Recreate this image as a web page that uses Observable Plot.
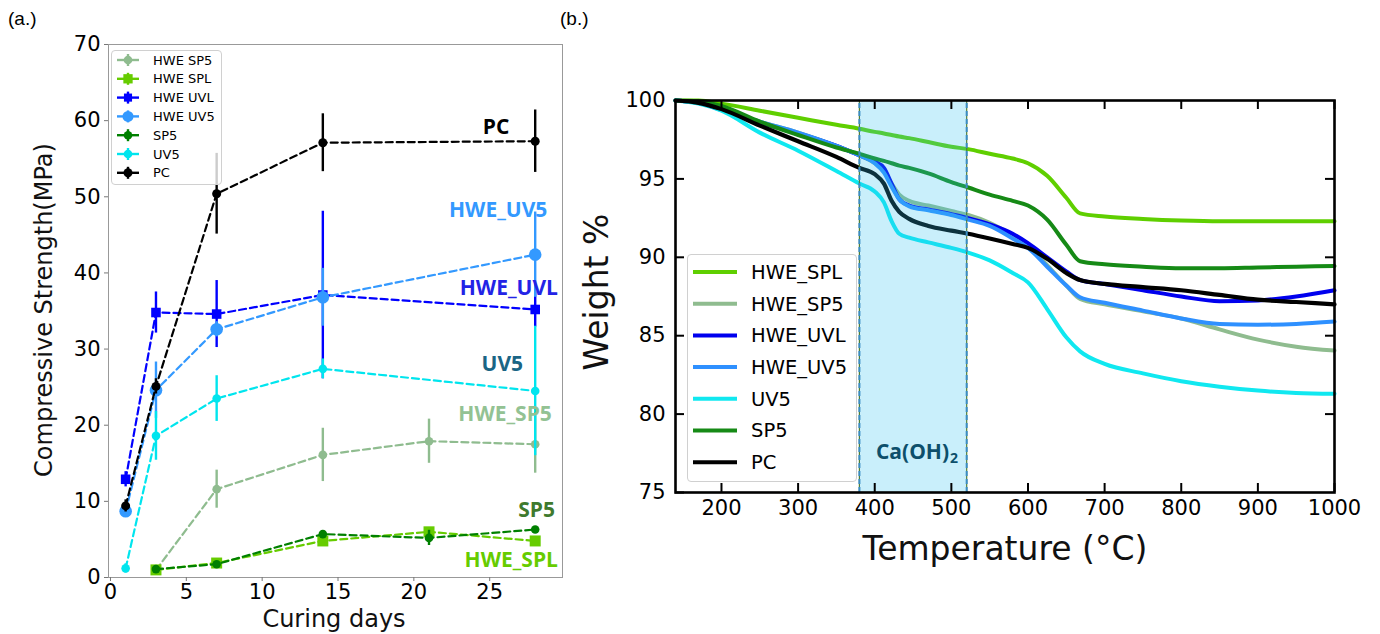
<!DOCTYPE html>
<html><head><meta charset="utf-8">
<script src="https://cdn.jsdelivr.net/npm/d3@7"></script>
<script src="https://cdn.jsdelivr.net/npm/@observablehq/plot@0.6"></script>
<style>
body{margin:0;background:#fff;width:1380px;height:634px;position:relative;overflow:hidden;font-family:"DejaVu Sans",sans-serif}
.abs{position:absolute}
.tag{position:absolute;top:8px;font:19px "Liberation Sans",Arial,sans-serif;color:#000}
.ax{position:absolute;font-family:"DejaVu Sans",sans-serif;color:#111;white-space:nowrap;transform:translate(-50%,-50%)}
.leg{position:absolute;background:rgba(255,255,255,0.8);border:1px solid #d0d0d0;border-radius:4px;box-sizing:border-box}
</style></head><body>
<div id="a" class="abs" style="left:0;top:0"></div>
<div id="b" class="abs" style="left:580px;top:0"></div>
<script>
// ---------- (a.) Compressive strength data ----------
const seriesA = ["HWE SP5","HWE SPL","HWE UVL","HWE UV5","SP5","UV5","PC"];
const daysHWE_SP5=[3,7,14,21,28], strHWE_SP5=[1.0,11.6,16.1,17.9,17.5], errHWE_SP5=[0.4,2.5,3.5,2.9,3.8];
const daysHWE_SPL=[3,7,14,21,28], strHWE_SPL=[1.0,1.9,4.8,6.0,4.8], errHWE_SPL=[0.3,0.3,0.5,0.4,0.5];
const daysHWE_UVL=[1,3,7,14,28], strHWE_UVL=[12.9,34.8,34.6,37.1,35.2], errHWE_UVL=[1.0,2.7,4.4,11.0,2.3];
const daysHWE_UV5=[1,3,7,14,28], strHWE_UV5=[8.7,24.6,32.6,36.8,42.4], errHWE_UV5=[0.5,3.7,1.0,3.8,5.6];
const daysSP5=[3,7,14,21,28], strSP5=[1.1,1.75,5.7,5.2,6.3], errSP5=[0.3,0.3,0.4,1.0,0.3];
const daysUV5=[1,3,7,14,28], strUV5=[1.2,18.6,23.5,27.4,24.5], errUV5=[0.6,3.2,3.0,1.3,8.5];
const daysPC=[1,3,7,14,28], strPC=[9.4,25.1,50.4,57.1,57.3], errPC=[0.8,1.0,5.3,3.8,4.1];
const xTicksA=[0,5,10,15,20,25];
const yTicksA=[0,10,20,30,40,50,60,70];
// end-of-line annotations (text, day, MPa)
const annText=["PC","HWE_UV5","HWE_UVL","UV5","HWE_SP5","SP5","HWE_SPL"];
const annDay=[26.3,28.8,29.5,27.2,29.1,29.3,29.5];
const annVal=[59.1,48.2,38.0,28.0,21.4,8.8,2.2];

// ---------- (b.) TGA data ----------
const seriesB=["HWE_SPL","HWE_SP5","HWE_UVL","HWE_UV5","UV5","SP5","PC"];
const temps=[140,170,200,250,300,350,380,400,412,422,432,445,470,500,522,550,580,600,625,650,668,700,750,800,850,900,950,1000];
const wHWE_SPL=[100,100,99.8,99.35,98.9,98.45,98.2,98.0,97.9,97.8,97.7,97.6,97.35,97.05,96.9,96.6,96.3,96.0,95.2,93.8,92.8,92.6,92.45,92.35,92.3,92.3,92.3,92.3];
const wHWE_SP5=[100,99.85,99.45,98.65,97.95,97.1,96.5,96.0,95.5,94.7,94.0,93.6,93.3,92.95,92.7,92.2,91.4,90.8,89.5,88.2,87.35,87.0,86.55,86.1,85.4,84.75,84.3,84.05];
const wHWE_UVL=[100,99.85,99.4,98.6,97.9,97.1,96.5,96.1,95.7,94.7,93.7,93.3,93.05,92.75,92.5,92.1,91.5,90.9,90.0,89.1,88.55,88.3,87.9,87.5,87.2,87.25,87.5,87.9];
const wHWE_UV5=[100,99.85,99.45,98.65,97.95,97.1,96.5,96.0,95.4,94.5,93.7,93.25,93.0,92.7,92.4,92.0,91.2,90.6,89.4,88.2,87.45,87.1,86.6,86.1,85.75,85.7,85.75,85.9];
const wUV5=[100,99.8,99.35,97.95,96.8,95.5,94.7,94.2,93.5,92.3,91.5,91.25,90.95,90.6,90.3,89.8,89.0,88.4,86.7,84.9,84.0,83.2,82.6,82.1,81.75,81.5,81.35,81.3];
const wSP5=[100,99.95,99.65,98.65,97.8,97.0,96.6,96.3,96.15,96.0,95.85,95.7,95.35,94.8,94.45,94.0,93.6,93.3,92.4,90.8,89.75,89.55,89.4,89.3,89.3,89.35,89.4,89.45];
const wPC=[100,99.85,99.45,98.4,97.4,96.4,95.7,95.3,94.7,93.6,92.9,92.45,92.0,91.7,91.5,91.2,90.85,90.6,89.9,89.0,88.55,88.3,88.1,87.9,87.6,87.3,87.15,87.0];
const band=[380,520];
const xTicksB=[200,300,400,500,600,700,800,900,1000];
const yTicksB=[75,80,85,90,95,100];
const yTicksBRight=[80,85,90,95];

// ---------- styles ----------
const styleA={
 "HWE SP5":{c:"#8fbc8f",sym:"circle",r:4.3},
 "HWE SPL":{c:"#66cc00",sym:"square",r:6.2},
 "HWE UVL":{c:"#0000ff",sym:"square",r:5.4},
 "HWE UV5":{c:"#3399ff",sym:"circle",r:6.3},
 "SP5":{c:"#008000",sym:"circle",r:4.3},
 "UV5":{c:"#00e5ee",sym:"circle",r:4.3},
 "PC":{c:"#000000",sym:"circle",r:4.5}
};
const annColors=["#000000","#3399ff","#2323e6","#1a6585","#93c293","#3f7a2e","#66cc00"];
const colorB={"HWE_SPL":"#5fcf00","HWE_SP5":"#8fbc8f","HWE_UVL":"#0000ee","HWE_UV5":"#2e90ff","UV5":"#10e8f0","SP5":"#168a16","PC":"#000000"};

// ---------- build (a.) ----------
const dataA={
 "HWE SP5":[daysHWE_SP5,strHWE_SP5,errHWE_SP5],
 "HWE SPL":[daysHWE_SPL,strHWE_SPL,errHWE_SPL],
 "HWE UVL":[daysHWE_UVL,strHWE_UVL,errHWE_UVL],
 "HWE UV5":[daysHWE_UV5,strHWE_UV5,errHWE_UV5],
 "SP5":[daysSP5,strSP5,errSP5],
 "UV5":[daysUV5,strUV5,errUV5],
 "PC":[daysPC,strPC,errPC]
};
const marksA=[Plot.frame({stroke:"#999",strokeWidth:1})];
for(const s of seriesA){
  const [d,v,e]=dataA[s];
  const rows=d.map((x,i)=>({x,v:v[i],lo:v[i]-e[i],hi:v[i]+e[i]}));
  const st=styleA[s];
  marksA.push(Plot.line(rows,{x:"x",y:"v",stroke:st.c,strokeWidth:2.2,strokeDasharray:"7,4"}));
  marksA.push(Plot.ruleX(rows,{x:"x",y1:"lo",y2:"hi",stroke:st.c,strokeWidth:2.4}));
  marksA.push(Plot.dot(rows,{x:"x",y:"v",fill:st.c,symbol:st.sym,r:st.r,stroke:"none"}));
}
const ann=annText.map((t,i)=>({t,x:annDay[i],y:annVal[i],c:annColors[i]}));
marksA.push(Plot.text(ann,{x:"x",y:"y",text:"t",fill:d=>d.c,textAnchor:"end",fontWeight:"bold",fontSize:21,fontFamily:"'Open Sans',sans-serif"}));
marksA.push(Plot.axisX({ticks:xTicksA,tickSize:4,tickPadding:3,stroke:"#777",fill:"#000",fontSize:21,label:null,tickFormat:d=>String(d)}));
marksA.push(Plot.axisY({ticks:yTicksA,tickSize:4,tickPadding:4,stroke:"#777",fill:"#000",fontSize:21,label:null,tickFormat:d=>String(d)}));

const plotA=Plot.plot({
  width:575,height:634,marginLeft:108,marginRight:13,marginTop:44,marginBottom:57,
  style:{fontFamily:"DejaVu Sans",fontSize:"21px",background:"transparent",color:"#000"},
  x:{domain:[-0.13,29.8]},
  y:{domain:[0,70]},
  marks:marksA
});
document.getElementById("a").appendChild(plotA);

// ---------- build (b.) ----------
const dataB={"HWE_SPL":wHWE_SPL,"HWE_SP5":wHWE_SP5,"HWE_UVL":wHWE_UVL,"HWE_UV5":wHWE_UV5,"UV5":wUV5,"SP5":wSP5,"PC":wPC};
const H=634-100-142, Wd=800-95-46;
const marksB=[];
for(const s of seriesB){
  const rows=temps.map((t,i)=>({t,w:dataB[s][i]}));
  marksB.push(Plot.line(rows,{x:"t",y:"w",stroke:colorB[s],strokeWidth:s==="PC"?4.2:4,curve:"monotone-x"}));
}
const bandMid=(band[0]+band[1])/2;
marksB.push(Plot.rect([band],{x1:d=>d[0],x2:d=>d[1],y1:75,y2:100,fill:"#30c0f0",fillOpacity:0.26}));
marksB.push(Plot.ruleX(band,{x:d=>d,y1:75,y2:100,stroke:"#4f7f3a",strokeWidth:1.2}));
marksB.push(Plot.ruleX(band,{x:d=>d,y1:75,y2:100,stroke:"#3a8cc4",strokeWidth:2,strokeDasharray:"5,3"}));
marksB.push(Plot.text(["Ca(OH)"],{x:bandMid,y:77.55,text:d=>d,fill:"#0d4f6b",fontWeight:"bold",fontSize:21,fontFamily:"'Open Sans',sans-serif",textAnchor:"end",dx:36}));
marksB.push(Plot.text(["2"],{x:bandMid,y:77.55,text:d=>d,fill:"#0d4f6b",fontWeight:"bold",fontSize:14,fontFamily:"'Open Sans',sans-serif",textAnchor:"start",dx:37,dy:6}));
marksB.push(Plot.frame({stroke:"#000",strokeWidth:2.6}));
marksB.push(Plot.tickX(xTicksB,{x:d=>d,insetTop:H-9,stroke:"#000",strokeWidth:2}));
marksB.push(Plot.tickX(xTicksB,{x:d=>d,insetBottom:H-9,stroke:"#000",strokeWidth:2}));
marksB.push(Plot.tickY(yTicksB,{y:d=>d,insetRight:Wd-9,stroke:"#000",strokeWidth:2}));
marksB.push(Plot.tickY(yTicksBRight,{y:d=>d,insetLeft:Wd-9,stroke:"#000",strokeWidth:2}));
marksB.push(Plot.axisX({ticks:xTicksB,tickSize:0,tickPadding:8,fill:"#000",fontSize:21,label:null,tickFormat:d=>String(d)}));
marksB.push(Plot.axisY({ticks:yTicksB,tickSize:0,tickPadding:10,fill:"#000",fontSize:21,label:null,tickFormat:d=>String(d)}));
const plotB=Plot.plot({
  width:800,height:634,marginLeft:95,marginRight:46,marginTop:100,marginBottom:142,
  style:{fontFamily:"DejaVu Sans",fontSize:"21px",background:"transparent",color:"#000"},
  x:{domain:[140,1000]},
  y:{domain:[75,100]},
  marks:marksB
});
document.getElementById("b").appendChild(plotB);

// ---------- text labels ----------
function addDiv(cls,html,css){const d=document.createElement("div");d.className=cls;d.innerHTML=html;Object.assign(d.style,css);document.body.appendChild(d);return d;}
addDiv("tag","(a.)",{left:"8px"});
addDiv("tag","(b.)",{left:"560px"});
addDiv("ax","Curing days",{left:"334px",top:"619px",fontSize:"24px"});
addDiv("ax","Compressive Strength(MPa)",{left:"44px",top:"310px",fontSize:"24px",transform:"translate(-50%,-50%) rotate(-90deg)"});
addDiv("ax","Temperature (°C)",{left:"1005px",top:"548px",fontSize:"33px"});
addDiv("ax","Weight %",{left:"596px",top:"292px",fontSize:"33px",transform:"translate(-50%,-50%) rotate(-90deg)"});

// ---------- legends ----------
function legendA(){
  const box=addDiv("leg","",{left:"111px",top:"50px",width:"111px",height:"135px"});
  const svg=d3.select(box).append("svg").attr("width",111).attr("height",135).style("position","absolute").style("left","-1px").style("top","-1px");
  seriesA.forEach((s,i)=>{
    const y=10+i*18.8, st=styleA[s];
    svg.append("line").attr("x1",6).attr("x2",28).attr("y1",y).attr("y2",y).attr("stroke",st.c).attr("stroke-width",2.4);
    svg.append("line").attr("x1",17).attr("x2",17).attr("y1",y-6).attr("y2",y+6).attr("stroke",st.c).attr("stroke-width",2.4);
    if(st.sym==="square"){const a=st.r*1.5;svg.append("rect").attr("x",17-a/2).attr("y",y-a/2).attr("width",a).attr("height",a).attr("fill",st.c);}
    else svg.append("circle").attr("cx",17).attr("cy",y).attr("r",Math.min(st.r,5.5)).attr("fill",st.c);
    svg.append("text").attr("x",42).attr("y",y).attr("dy","0.35em").attr("font-size",13).attr("font-family","DejaVu Sans").text(s);
  });
}
function legendB(){
  const box=addDiv("leg","",{left:"687px",top:"254px",width:"170px",height:"228px"});
  const svg=d3.select(box).append("svg").attr("width",170).attr("height",228).style("position","absolute").style("left","-1px").style("top","-1px");
  seriesB.forEach((s,i)=>{
    const y=18+i*31.7;
    svg.append("line").attr("x1",6).attr("x2",50).attr("y1",y).attr("y2",y).attr("stroke",colorB[s]).attr("stroke-width",4);
    svg.append("text").attr("x",64).attr("y",y).attr("dy","0.35em").attr("font-size",19.5).attr("font-family","DejaVu Sans").text(s);
  });
}
legendA(); legendB();
</script>
</body></html>
